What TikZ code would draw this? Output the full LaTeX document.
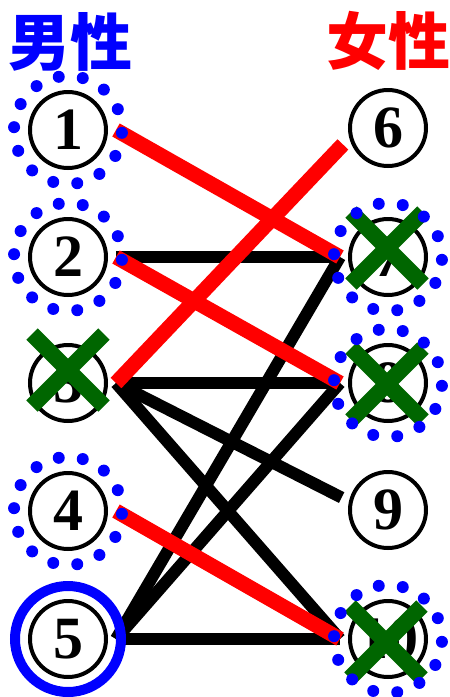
\documentclass[tikz,border=0pt]{standalone}
\usepackage{fontspec}
\setmainfont{Liberation Serif}
\newfontfamily\cjkfont{Noto Sans CJK SC}
\usetikzlibrary{shapes.misc}

\begin{document}
\begin{tikzpicture}[x=1pt, y=-1pt,
    every node/.style={font=\fontsize{60}{60}\selectfont\bfseries},
    person/.style={circle, draw, line width=4pt, minimum size=76pt, inner sep=0pt, outer sep=10pt},
    title/.style={font=\fontsize{62}{62}\selectfont\cjkfont\bfseries},
    crossed/.style={cross out, draw=green!40!black, line width=16pt, minimum size=56pt, inner sep=0pt},
    link/.style={black, line width=12pt},
    pair/.style={red, line width=15pt},
]
\useasboundingbox (0,0) rectangle (450,697);

% Titles
\node[title, blue] (male) at (71,42) {男性};
\node[title, red] (female) at (388,41) {女性};

% Men
\node[person] (n1) at (68,130) {1};
\node[person] (n2) at (68,257) {2};
\node[person] (n3) at (68,383) {3};
\node[person] (n4) at (68,511) {4};
\node[person] (n5) at (68,639) {5};

% Women
\node[person] (n6) at (388,128) {6};
\node[person] (n7) at (388,257) {7};
\node[person] (n8) at (388,383) {8};
\node[person] (n9) at (388,510) {9};
\node[person] (n10) at (388,639) {10};

% Rejected
\node[crossed] (x3) at (68,370) {};
\node[crossed] (x7) at (387,248) {};
\node[crossed] (x8) at (387,384) {};
\node[crossed] (x10) at (386,642) {};

% Proposals
\draw[link] (n2.east) -- (n7.west);
\draw[link] (n3.east) -- (n8.west);
\draw[link] (n3.east) -- (n9.165);
\draw[link] (n3.east) -- (n10.west);
\draw[link] (n5.east) -- (n7.west);
\draw[link] (n5.east) -- (n8.west);
\draw[link] (n5.east) -- (n10.west);

% Pairs
\draw[pair] (n1.east) -- (n7.west);
\draw[pair] (n2.east) -- (n8.west);
\draw[pair] (n3.east) -- (n6.200);
\draw[pair] (n4.east) -- (n10.west);

% Dotted rings
\foreach \n in {n1,n2,n4,n7,n8,n10}
    \foreach \a in {0,...,13}
        \fill[blue] (\n.center) ++(\a*360/14+3:54) circle (6);

\draw[blue, line width=10pt] (n5.center) circle (53);

\end{tikzpicture}
\end{document}
